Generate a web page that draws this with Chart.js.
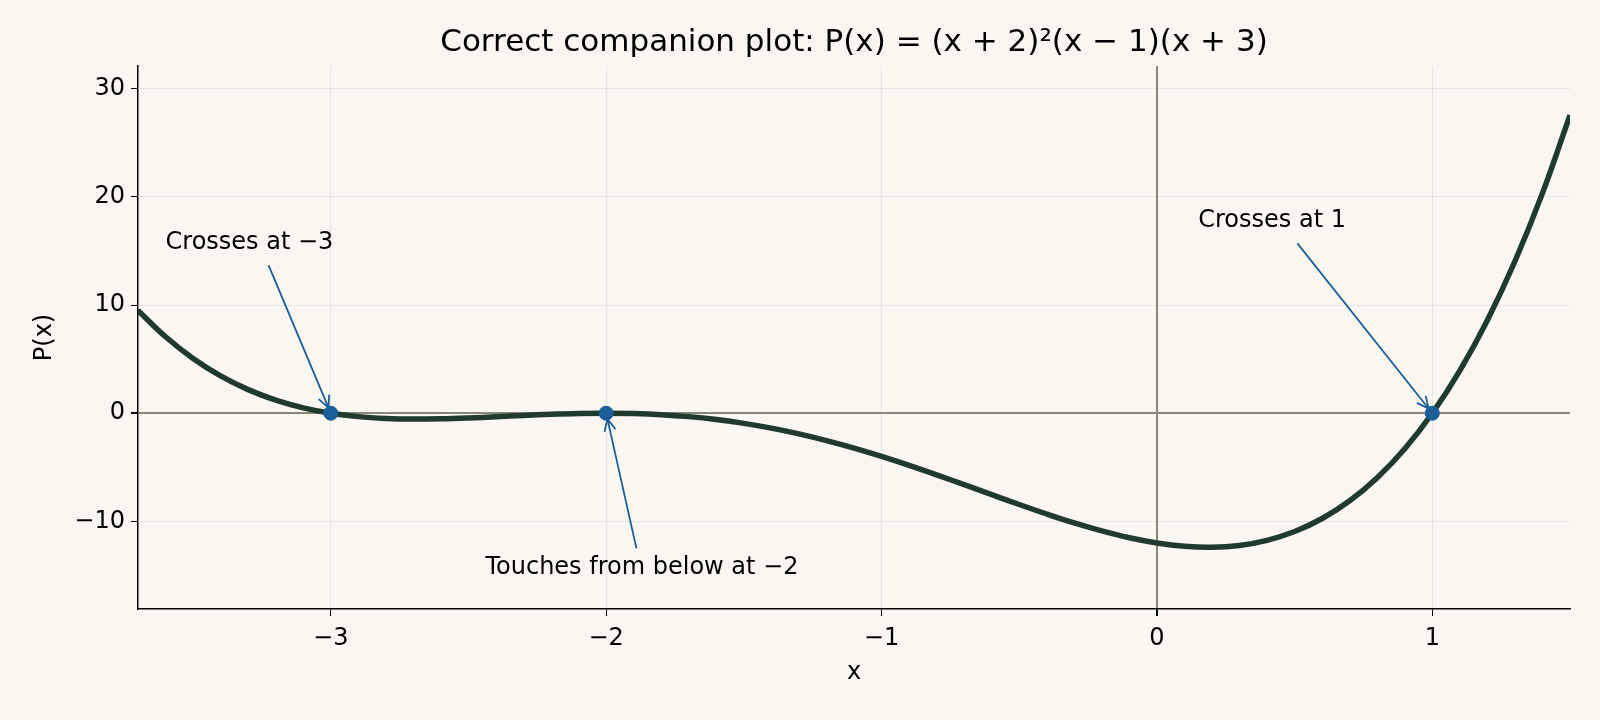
<!DOCTYPE html>
<html><head><meta charset="utf-8">
<script src="https://cdn.jsdelivr.net/npm/chart.js@4/dist/chart.umd.min.js"></script>
<style>html,body{margin:0;background:#f9f7f0;}#w{width:1600px;height:720px;}</style>
</head><body><div id="w"><canvas id="c"></canvas></div>
<script>
const xs = [-3.7,-3.6,-3.5,-3.4,-3.3,-3.2,-3.1,-3.0,-2.9,-2.8,-2.7,-2.6,-2.5,-2.4,-2.3,-2.2,-2.1,-2.0,-1.9,-1.8,-1.7,-1.6,-1.5,-1.4,-1.3,-1.2,-1.1,-1.0,-0.9,-0.8,-0.7,-0.6,-0.5,-0.4,-0.3,-0.2,-0.1,0,0.1,0.2,0.3,0.4,0.5,0.6,0.7,0.8,0.9,1.0,1.1,1.2,1.3,1.4,1.5];
const ys = [9.508,7.066,5.063,3.450,2.180,1.210,0.496,0,-0.316,-0.486,-0.544,-0.518,-0.438,-0.326,-0.208,-0.102,-0.028,0,-0.032,-0.134,-0.316,-0.582,-0.938,-1.382,-1.916,-2.534,-3.232,-4,-4.828,-5.702,-6.608,-7.526,-8.438,-9.318,-10.144,-10.886,-11.516,-12,-12.304,-12.390,-12.220,-11.750,-10.938,-9.734,-8.092,-5.958,-3.280,0,3.940,8.602,14.048,20.346,27.563];
const rootX = [-3,-2,1];
const rootY = [0,0,0];
const xTicks = [-3,-2,-1,0,1];
const yTicks = [-10,0,10,20,30];
const notes = [
  {text:'Crosses at −3', tx:-3.6, ty:15.8, align:'left', ax:-3.226, ay:13.7, px:-3, py:0},
  {text:'Touches from below at −2', tx:-1.87, ty:-14.3, align:'center', ax:-1.89, ay:-12.5, px:-2, py:0},
  {text:'Crosses at 1', tx:0.15, ty:17.8, align:'left', ax:0.51, ay:15.7, px:1, py:0}
];
const FONT = 'DejaVu Sans';
const minus = v => String(v).replace('-', '−');
const bg = {id:'bg', beforeDraw(c){const g=c.ctx;g.save();g.fillStyle='#f9f7f0';g.fillRect(0,0,c.width,c.height);g.restore();}};
const ann = {id:'ann', afterDatasetsDraw(c){
  const g=c.ctx, X=c.scales.x, Y=c.scales.y;
  g.save();
  g.fillStyle='#000';
  g.font='24px '+FONT;g.textBaseline='middle';
  notes.forEach(n=>{
    g.textAlign=n.align;g.fillText(n.text,X.getPixelForValue(n.tx),Y.getPixelForValue(n.ty));
    const x0=X.getPixelForValue(n.ax),y0=Y.getPixelForValue(n.ay),x1=X.getPixelForValue(n.px),y1=Y.getPixelForValue(n.py);
    const a=Math.atan2(y1-y0,x1-x0);const ex=x1-6*Math.cos(a),ey=y1-6*Math.sin(a);
    g.strokeStyle='#1a5f9a';g.lineWidth=1.8;
    g.beginPath();g.moveTo(x0,y0);g.lineTo(ex,ey);g.stroke();
    g.beginPath();g.moveTo(ex-13*Math.cos(a-0.45),ey-13*Math.sin(a-0.45));g.lineTo(ex,ey);g.lineTo(ex-13*Math.cos(a+0.45),ey-13*Math.sin(a+0.45));g.stroke();
  });
  g.font='31px '+FONT;g.textAlign='center';g.textBaseline='middle';
  g.fillText('Correct companion plot: P(x) = (x + 2)²(x − 1)(x + 3)',(X.left+X.right)/2,43);
  g.restore();
}};
const gridCfg = {color:c=>c.tick&&c.tick.value===0?'#888877':'rgba(0,0,0,0.07)',lineWidth:c=>c.tick&&c.tick.value===0?2:1,tickColor:'#000',tickLength:7};
new Chart(document.getElementById('c'),{
  type:'scatter',
  data:{datasets:[
    {data:rootX.map((x,i)=>({x,y:rootY[i]})),pointRadius:7,pointBackgroundColor:'#1a5f9a',pointBorderColor:'#1a5f9a',showLine:false,order:0},
    {data:xs.map((x,i)=>({x,y:ys[i]})),showLine:true,borderColor:'#1f3b2d',borderWidth:5.5,pointRadius:0,tension:0.4,order:1}
  ]},
  options:{responsive:true,maintainAspectRatio:false,animation:false,
    layout:{padding:{top:66,right:30,left:0,bottom:0}},
    plugins:{legend:{display:false},tooltip:{enabled:false}},
    scales:{
      x:{type:'linear',min:-3.7,max:1.5,
        afterBuildTicks:s=>{s.ticks=xTicks.map(v=>({value:v}));},
        afterFit:s=>{s.height=111;},
        border:{color:'#000',width:1.5},
        grid:gridCfg,
        ticks:{color:'#000',font:{family:FONT,size:24},callback:v=>minus(v),padding:8},
        title:{display:true,text:'x',color:'#000',font:{family:FONT,size:24},padding:{top:4,bottom:33}}},
      y:{type:'linear',min:-18.1,max:32.1,
        afterBuildTicks:s=>{s.ticks=yTicks.map(v=>({value:v}));},
        afterFit:s=>{s.width=138;},
        border:{color:'#000',width:1.5},
        grid:gridCfg,
        ticks:{color:'#000',font:{family:FONT,size:24},callback:v=>minus(v),padding:6},
        title:{display:true,text:'P(x)',color:'#000',font:{family:FONT,size:24},padding:{top:30,bottom:0}}}
    }
  },
  plugins:[bg,ann]
});
</script></body></html>
